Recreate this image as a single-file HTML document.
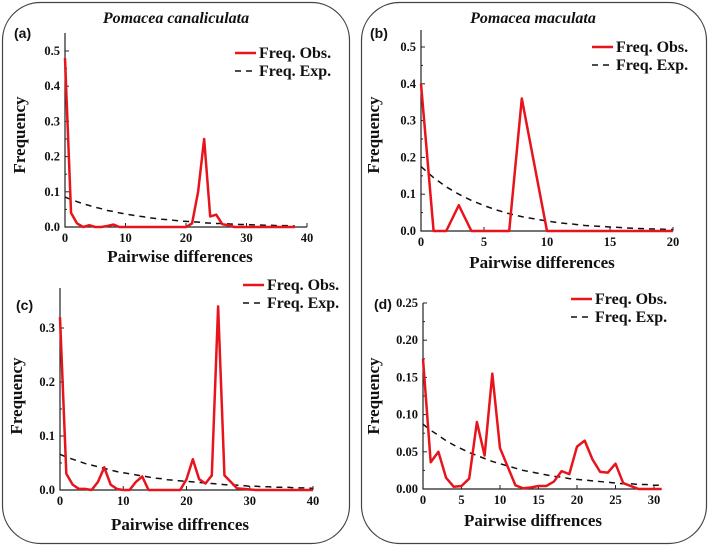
<!DOCTYPE html>
<html><head><meta charset="utf-8"><style>
body{margin:0;background:#fff;width:709px;height:546px;overflow:hidden}
svg{display:block}
text{font-family:"Liberation Serif",serif;font-weight:bold;fill:#111}
</style></head><body>
<svg id="fig" width="709" height="546" viewBox="0 0 709 546">
<rect x="2.5" y="2.5" width="347" height="541" rx="38" fill="none" stroke="#444" stroke-width="1.2"/>
<rect x="361.5" y="2.5" width="345" height="541" rx="38" fill="none" stroke="#444" stroke-width="1.2"/>
<text x="176" y="23" text-anchor="middle" font-size="16" font-style="italic">Pomacea canaliculata</text>
<text x="533" y="23" text-anchor="middle" font-size="16" font-style="italic">Pomacea maculata</text>
</svg>
<script>
const aX=[0,1,2,3,4,5,6,7,8,9,10,11,12,13,14,15,16,17,18,19,20,21,22,23,24,25,26,27,28,29,30,31,32,33,34,35,36,37,38];
const aObs=[0.48,0.04,0.01,0,0.005,0,0,0.003,0.007,0,0,0,0,0,0,0,0,0,0,0,0,0.01,0.1,0.25,0.03,0.035,0.008,0.005,0,0,0,0,0,0,0,0,0,0,0];
const aExp=[0.085,0.078,0.072,0.066,0.061,0.056,0.052,0.047,0.044,0.040,0.037,0.034,0.031,0.029,0.026,0.024,0.022,0.021,0.019,0.017,0.016,0.015,0.014,0.012,0.011,0.010,0.010,0.009,0.008,0.007,0.007,0.006,0.006,0.005,0.005,0.004,0.004,0.004,0.003];
const aXTicks=[0,10,20,30,40];
const aYTicks=[0,0.1,0.2,0.3,0.4,0.5];

const bX=[0,1,2,3,4,5,6,7,8,9,10,11,12,13,14,15,16,17,18,19,20];
const bObs=[0.4,0,0,0.07,0,0,0,0,0.36,0.18,0,0,0,0,0,0,0,0,0,0,0];
const bExp=[0.175,0.145,0.12,0.10,0.083,0.069,0.057,0.047,0.039,0.033,0.027,0.022,0.019,0.015,0.013,0.011,0.009,0.007,0.006,0.005,0.004];
const bXTicks=[0,5,10,15,20];
const bYTicks=[0,0.1,0.2,0.3,0.4,0.5];

const cX=[0,1,2,3,4,5,6,7,8,9,10,11,12,13,14,15,16,17,18,19,20,21,22,23,24,25,26,27,28,29,30,31,32,33,34,35,36,37,38,39,40];
const cObs=[0.32,0.03,0.01,0.002,0.002,0,0.015,0.042,0.01,0.002,0,0,0.015,0.025,0,0,0,0,0,0,0.02,0.057,0.02,0.012,0.027,0.34,0.027,0.015,0.003,0.002,0.001,0,0,0,0,0,0,0,0,0,0];
const cExp=[0.066,0.061,0.057,0.053,0.049,0.046,0.043,0.040,0.037,0.034,0.032,0.030,0.028,0.026,0.024,0.022,0.021,0.019,0.018,0.017,0.016,0.015,0.014,0.013,0.012,0.011,0.010,0.009,0.009,0.008,0.007,0.007,0.006,0.006,0.005,0.005,0.005,0.004,0.004,0.004,0.003];
const cXTicks=[0,10,20,30,40];
const cYTicks=[0,0.1,0.2,0.3];

const dX=[0,1,2,3,4,5,6,7,8,9,10,11,12,13,14,15,16,17,18,19,20,21,22,23,24,25,26,27,28,29,30,31];
const dObs=[0.175,0.036,0.05,0.015,0.003,0.004,0.014,0.09,0.045,0.155,0.055,0.03,0.005,0.001,0.002,0.004,0.004,0.01,0.024,0.02,0.057,0.065,0.04,0.023,0.022,0.034,0.008,0.004,0,0,0,0];
const dExp=[0.087,0.079,0.072,0.065,0.059,0.054,0.049,0.045,0.041,0.037,0.034,0.031,0.028,0.025,0.023,0.021,0.019,0.017,0.016,0.014,0.013,0.012,0.011,0.010,0.009,0.008,0.007,0.007,0.006,0.006,0.005,0.005];
const dXTicks=[0,5,10,15,20,25,30];
const dYTicks=[0,0.05,0.10,0.15,0.20,0.25];

const NS="http://www.w3.org/2000/svg";
const svg=document.getElementById('fig');
function mk(tag,attrs,parent){const e=document.createElementNS(NS,tag);for(const k in attrs)e.setAttribute(k,attrs[k]);(parent||svg).appendChild(e);return e;}

function panel(id,letter,xs,obs,exp,xt,yt,cfg,dec){
  const g=mk('g',{});
  
  
  const sx=v=>cfg.x0+(v-cfg.xmin)*(cfg.x1-cfg.x0)/(cfg.xmax-cfg.xmin);
  const sy=v=>cfg.y0-(v)*(cfg.y0-cfg.y1)/(cfg.ymax);
  const ax=mk('path',{d:`M${cfg.x0},${cfg.ytop}V${cfg.y0}H${cfg.xend}`,fill:'none',stroke:'#222','stroke-width':1.2},g);
  
  
  xt.forEach(v=>{
    mk('line',{x1:sx(v),x2:sx(v),y1:cfg.y0,y2:cfg.y0-4,stroke:'#222'},g);
    const t=mk('text',{x:sx(v),y:cfg.y0+15,'text-anchor':'middle','font-size':12.5},g);
    t.textContent=v;
    
    
  });
  yt.forEach((v,i)=>{
    mk('line',{x1:cfg.x0,x2:cfg.x0+4,y1:sy(v),y2:sy(v),stroke:'#222'},g);
    if(i<yt.length-1){const m=(v+yt[i+1])/2;mk('line',{x1:cfg.x0,x2:cfg.x0+2,y1:sy(m),y2:sy(m),stroke:'#222'},g);}
    const t=mk('text',{x:cfg.x0-5,y:sy(v)+4,'text-anchor':'end','font-size':12.5},g);
    t.textContent=v.toFixed(dec);
    
    
  });
  const pe=mk('polyline',{points:xs.map((x,i)=>sx(x)+','+sy(exp[i])).join(' '),fill:'none',stroke:'#111','stroke-width':1.5,'stroke-dasharray':'6,5'},g);
  
  
  const po=mk('polyline',{points:xs.map((x,i)=>sx(x)+','+sy(obs[i])).join(' '),fill:'none',stroke:'#e8141c','stroke-width':2.5,'stroke-linejoin':'round'},g);
  
  
  const lt=mk('text',{x:cfg.lx,y:cfg.ly,'font-size':14,style:'font-family:"Liberation Sans",sans-serif'},g);
  lt.textContent='('+letter+')';
  
  
  const xl=mk('text',{x:cfg.xlx,y:cfg.xly,'text-anchor':'middle','font-size':17},g);
  xl.textContent=cfg.xlabel;
  
  
  const yl=mk('text',{x:0,y:0,'text-anchor':'middle','font-size':17,transform:`translate(${cfg.ylx},${cfg.yly}) rotate(-90)`},g);
  yl.textContent='Frequency';
  
  
  const L=cfg.leg;
  const l1=mk('line',{x1:L[0],x2:L[0]+21,y1:L[1],y2:L[1],stroke:'#e8141c','stroke-width':2.5},g);
  
  
  const t1=mk('text',{x:L[0]+24,y:L[1]+5,'font-size':16},g);t1.textContent='Freq. Obs.';
  
  
  const l2=mk('line',{x1:L[0],x2:L[0]+21,y1:L[1]+18,y2:L[1]+18,stroke:'#111','stroke-width':1.5,'stroke-dasharray':'6,5'},g);
  
  
  const t2=mk('text',{x:L[0]+24,y:L[1]+23,'font-size':16},g);t2.textContent='Freq. Exp.';
  
  
}
panel('a','a',aX,aObs,aExp,aXTicks,aYTicks,{x0:65,x1:307,xmin:0,xmax:40,xend:307,y0:227,y1:51,ymax:0.5,ytop:33,lx:14,ly:38,xlx:180,xly:262,ylx:25,yly:135,xlabel:'Pairwise differences',leg:[235,53]},1);
panel('b','b',bX,bObs,bExp,bXTicks,bYTicks,{x0:421,x1:673,xmin:0,xmax:20,xend:673,y0:231,y1:47,ymax:0.5,ytop:30,lx:370,ly:38,xlx:542,xly:268,ylx:379,yly:135,xlabel:'Pairwise differences',leg:[592,47]},1);
panel('c','c',cX,cObs,cExp,cXTicks,cYTicks,{x0:60,x1:313,xmin:0,xmax:40,xend:313,y0:490,y1:328,ymax:0.3,ytop:288,lx:16,ly:310,xlx:180,xly:530,ylx:22,yly:396,xlabel:'Pairwise diffrences',leg:[243,285]},1);
panel('d','d',dX,dObs,dExp,dXTicks,dYTicks,{x0:423,x1:654,xmin:0,xmax:30,xend:657,y0:489,y1:303,ymax:0.25,ytop:303,lx:374,ly:309,xlx:533,xly:526,ylx:379,yly:396,xlabel:'Pairwise diffrences',leg:[571,299]},2);
</script>
</body></html>
